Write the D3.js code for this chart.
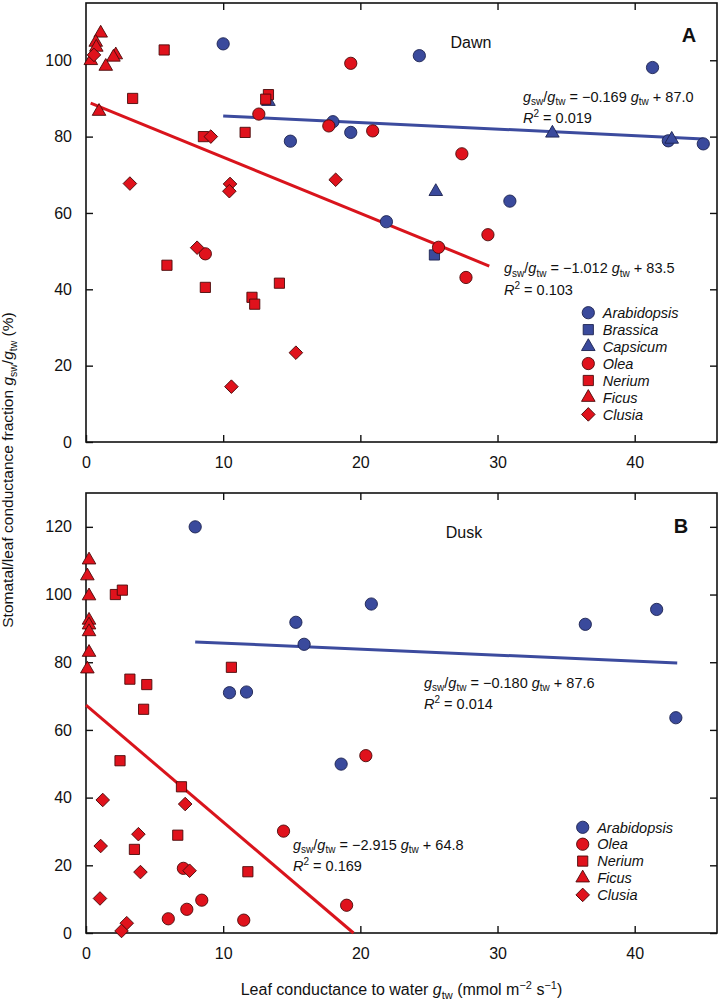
<!DOCTYPE html>
<html>
<head>
<meta charset="utf-8">
<script src="https://cdn.jsdelivr.net/npm/d3@7"></script>
<style>
  html, body { margin: 0; padding: 0; background: #fff; }
  svg { display: block; font-family: "Liberation Sans", Arial, Helvetica, sans-serif; }
</style>
</head>
<body>
<svg id="chart" width="721" height="1003"></svg>
<script>
// ---------------- DATA ----------------
const xTicks = [0, 10, 20, 30, 40];
const dawnYTicks = [0, 20, 40, 60, 80, 100];
const duskYTicks = [0, 20, 40, 60, 80, 100, 120];

// Dawn (panel A) — [g_tw, g_sw/g_tw %]
const dawnArabidopsis = [[10.0,104.3],[24.3,101.2],[41.3,98.1],[18.0,83.9],[19.3,81.1],[14.9,78.8],[42.45,78.9],[45.0,78.1],[30.9,63.1],[21.9,57.7]];
const dawnBrassica = [[25.4,49.0]];
const dawnCapsicum = [[13.3,89.2],[34.0,80.9],[42.7,79.3],[25.5,65.6]];
const dawnOlea = [[19.3,99.2],[12.6,85.9],[17.7,82.8],[20.9,81.5],[27.4,75.5],[29.3,54.3],[25.7,51.0],[27.7,43.1],[8.7,49.3]];
const dawnNerium = [[5.7,102.7],[3.4,90.0],[13.3,91.0],[13.1,89.8],[8.56,80.0],[11.6,81.1],[5.9,46.3],[8.7,40.5],[12.1,37.9],[12.3,36.1],[14.1,41.6]];
const dawnFicus = [[1.07,107.1],[0.71,104.7],[0.75,103.4],[0.35,99.9],[2.17,101.4],[2.0,100.8],[1.44,98.4],[0.95,86.6]];
const dawnClusia = [[0.58,101.4],[9.1,80.0],[3.2,67.7],[10.5,67.6],[10.45,65.7],[8.1,50.9],[15.3,23.4],[10.6,14.5],[18.2,68.7]];

// Dusk (panel B)
const duskArabidopsis = [[7.96,120.0],[15.3,91.8],[15.9,85.3],[20.8,97.2],[36.4,91.2],[41.6,95.6],[10.46,71.0],[11.7,71.2],[18.6,49.9],[43.0,63.6]];
const duskOlea = [[20.4,52.4],[14.4,30.1],[7.1,19.1],[8.44,9.7],[7.35,7.0],[6.0,4.2],[11.5,3.8],[19.0,8.2]];
const duskNerium = [[2.14,100.0],[2.65,101.3],[10.6,78.5],[3.2,75.0],[4.43,73.4],[4.2,66.1],[2.48,50.9],[6.96,43.2],[6.69,28.9],[3.53,24.7],[11.8,18.1]];
const duskFicus = [[0.22,110.2],[0.1,105.5],[0.22,99.6],[0.22,92.4],[0.22,91.0],[0.22,89.0],[0.22,82.9],[0.1,78.0]];
const duskClusia = [[1.22,39.3],[7.23,38.1],[3.82,29.2],[1.07,25.7],[3.97,18.0],[7.55,18.4],[1.02,10.2],[2.97,2.9],[2.59,0.6]];

// Regression lines as drawn (end points)
const dawnBlueFit = [[10.0,85.4],[45.0,79.4]];
const dawnRedFit = [[0.34,88.8],[29.4,46.1]];
const duskBlueFit = [[7.96,86.0],[43.1,79.8]];
const duskRedFit = [[0.0,67.3],[19.5,0.0]];

// Equation labels [slope, intercept, R2]
const dawnBlueEq = ["\u22120.169", "87.0", "0.019"];
const dawnRedEq = ["\u22121.012", "83.5", "0.103"];
const duskBlueEq = ["\u22120.180", "87.6", "0.014"];
const duskRedEq = ["\u22122.915", "64.8", "0.169"];

const dawnLegend = ["Arabidopsis","Brassica","Capsicum","Olea","Nerium","Ficus","Clusia"];
const duskLegend = ["Arabidopsis","Olea","Nerium","Ficus","Clusia"];

// ---------------- STYLE ----------------
const BLUE = "#3a4a9c";
const RED = "#e0121c";
const LINE_BLUE = "#3c4b9e";
const LINE_RED = "#d9141c";
const FONT = '"Liberation Sans", Arial, Helvetica, sans-serif';

const shapes = {
  circle:   {type: d3.symbolCircle, size: 118, rot: 0},
  square:   {type: d3.symbolSquare, size: 104, rot: 0},
  triangle: {type: d3.symbolTriangle, size: 80, rot: 0},
  diamond:  {type: d3.symbolSquare, size: 92, rot: 45}
};
const speciesStyle = {
  Arabidopsis: {shape: "circle", color: BLUE},
  Brassica: {shape: "square", color: BLUE},
  Capsicum: {shape: "triangle", color: BLUE},
  Olea: {shape: "circle", color: RED},
  Nerium: {shape: "square", color: RED},
  Ficus: {shape: "triangle", color: RED},
  Clusia: {shape: "diamond", color: RED}
};

const svg = d3.select("#chart");
const x = d3.scaleLinear().domain([0, 46]).range([86, 717]);

function drawMarker(g, sp, px, py) {
  const st = speciesStyle[sp];
  const sh = shapes[st.shape];
  g.append("path")
    .attr("d", d3.symbol().type(sh.type).size(sh.size)())
    .attr("transform", `translate(${px},${py}) rotate(${sh.rot})`)
    .attr("fill", st.color)
    .attr("stroke", st.color === BLUE ? "#1c2350" : "#4a0a0a")
    .attr("stroke-width", 0.9);
}

function eqText(g, px, py, eq) {
  const t = g.append("text").attr("x", px).attr("y", py)
    .attr("font-size", 14.5).attr("fill", "#111");
  t.append("tspan").attr("font-style", "italic").text("g");
  t.append("tspan").attr("font-size", 10).attr("dy", 3.5).text("sw");
  t.append("tspan").attr("dy", -3.5).text("/");
  t.append("tspan").attr("font-style", "italic").text("g");
  t.append("tspan").attr("font-size", 10).attr("dy", 3.5).text("tw");
  t.append("tspan").attr("dy", -3.5).text(" = " + eq[0] + " ");
  t.append("tspan").attr("font-style", "italic").text("g");
  t.append("tspan").attr("font-size", 10).attr("dy", 3.5).text("tw");
  t.append("tspan").attr("dy", -3.5).text(" + " + eq[1]);
  const r = g.append("text").attr("x", px).attr("y", py + 21.5)
    .attr("font-size", 14.5).attr("fill", "#111");
  r.append("tspan").attr("font-style", "italic").text("R");
  r.append("tspan").attr("font-size", 10).attr("dy", -6).text("2");
  r.append("tspan").attr("dy", 6).text(" = " + eq[2]);
}

function panel(cfg) {
  const y = d3.scaleLinear().domain([0, cfg.ymax]).range([cfg.y0, cfg.yTop]);
  const g = svg.append("g");

  // axes with inward ticks
  const left = g.append("g").attr("transform", `translate(${x(0)},0)`)
    .call(d3.axisLeft(y).tickValues(cfg.yTicks).tickSize(-7).tickPadding(14));
  const right = g.append("g").attr("transform", `translate(${x(46)},0)`)
    .call(d3.axisRight(y).tickValues(cfg.yTicks).tickSize(-7).tickFormat(""));
  const bottom = g.append("g").attr("transform", `translate(0,${cfg.y0})`)
    .call(d3.axisBottom(x).tickValues(xTicks).tickSize(-7).tickPadding(15));
  const top = g.append("g").attr("transform", `translate(0,${cfg.yTop})`)
    .call(d3.axisTop(x).tickValues(xTicks.slice(1)).tickSize(-7).tickFormat(""));
  [left, right, bottom, top].forEach(a => {
    a.select(".domain").remove();
    a.selectAll("line").attr("stroke", "#111").attr("stroke-width", 1.4);
    a.selectAll("text").attr("font-family", FONT).attr("font-size", 16).attr("fill", "#111");
  });

  // frame
  g.append("rect").attr("x", x(0)).attr("y", cfg.yTop)
    .attr("width", x(46) - x(0)).attr("height", cfg.y0 - cfg.yTop)
    .attr("fill", "none").attr("stroke", "#111").attr("stroke-width", 1.6);

  // regression lines
  const line = d3.line().x(d => x(d[0])).y(d => y(d[1]));
  g.append("path").datum(cfg.blueFit).attr("d", line)
    .attr("stroke", LINE_BLUE).attr("stroke-width", 3).attr("fill", "none");
  g.append("path").datum(cfg.redFit).attr("d", line)
    .attr("stroke", LINE_RED).attr("stroke-width", 3).attr("fill", "none");

  // points
  cfg.series.forEach(([sp, data]) => {
    data.forEach(d => drawMarker(g, sp, x(d[0]), y(d[1])));
  });

  // title & letter
  g.append("text").attr("x", cfg.titleX).attr("y", cfg.titleY)
    .attr("text-anchor", "middle").attr("font-size", 16).attr("fill", "#111").text(cfg.title);
  g.append("text").attr("x", cfg.letterX).attr("y", cfg.letterY)
    .attr("text-anchor", "middle").attr("font-size", 20).attr("font-weight", "bold")
    .attr("fill", "#111").text(cfg.letter);

  // equations
  eqText(g, cfg.blueEqPos[0], cfg.blueEqPos[1], cfg.blueEq);
  eqText(g, cfg.redEqPos[0], cfg.redEqPos[1], cfg.redEq);

  // legend
  cfg.legend.forEach((sp, i) => {
    const ly = cfg.legendY + i * cfg.legendStep;
    drawMarker(g, sp, cfg.legendX, ly);
    g.append("text").attr("x", cfg.legendX + 14.5).attr("y", ly + 5.2)
      .attr("font-size", 14.5).attr("font-style", "italic").attr("fill", "#111").text(sp);
  });
}

panel({
  ymax: 115, y0: 442, yTop: 3, yTicks: dawnYTicks,
  blueFit: dawnBlueFit, redFit: dawnRedFit,
  series: [["Arabidopsis", dawnArabidopsis], ["Brassica", dawnBrassica], ["Capsicum", dawnCapsicum],
           ["Olea", dawnOlea], ["Nerium", dawnNerium], ["Ficus", dawnFicus], ["Clusia", dawnClusia]],
  title: "Dawn", titleX: 471, titleY: 47.5, letter: "A", letterX: 689, letterY: 41.5,
  blueEq: dawnBlueEq, blueEqPos: [523, 101.5], redEq: dawnRedEq, redEqPos: [504, 273],
  legend: dawnLegend, legendX: 588.3, legendY: 312.7, legendStep: 16.95
});

panel({
  ymax: 130, y0: 933, yTop: 493, yTicks: duskYTicks,
  blueFit: duskBlueFit, redFit: duskRedFit,
  series: [["Arabidopsis", duskArabidopsis], ["Olea", duskOlea], ["Nerium", duskNerium],
           ["Ficus", duskFicus], ["Clusia", duskClusia]],
  title: "Dusk", titleX: 464, titleY: 537.5, letter: "B", letterX: 681, letterY: 533,
  blueEq: duskBlueEq, blueEqPos: [424, 687.5], redEq: duskRedEq, redEqPos: [293, 849.5],
  legend: duskLegend, legendX: 582.7, legendY: 827.3, legendStep: 16.9
});

// Y axis title
const yt = svg.append("text")
  .attr("transform", "translate(13,470) rotate(-90)")
  .attr("text-anchor", "middle").attr("font-size", 15.5).attr("fill", "#111");
yt.append("tspan").text("Stomatal/leaf conductance fraction ");
yt.append("tspan").attr("font-style", "italic").text("g");
yt.append("tspan").attr("font-size", 10.5).attr("dy", 3.5).text("sw");
yt.append("tspan").attr("dy", -3.5).text("/");
yt.append("tspan").attr("font-style", "italic").text("g");
yt.append("tspan").attr("font-size", 10.5).attr("dy", 3.5).text("tw");
yt.append("tspan").attr("dy", -3.5).text(" (%)");

// X axis title
const xt = svg.append("text")
  .attr("x", 401.5).attr("y", 995)
  .attr("text-anchor", "middle").attr("font-size", 16).attr("fill", "#111");
xt.append("tspan").text("Leaf conductance to water ");
xt.append("tspan").attr("font-style", "italic").text("g");
xt.append("tspan").attr("font-size", 11).attr("dy", 4).text("tw");
xt.append("tspan").attr("dy", -4).text(" (mmol m");
xt.append("tspan").attr("font-size", 11).attr("dy", -6).text("\u22122");
xt.append("tspan").attr("dy", 6).text(" s");
xt.append("tspan").attr("font-size", 11).attr("dy", -6).text("\u22121");
xt.append("tspan").attr("dy", 6).text(")");
</script>
</body>
</html>
